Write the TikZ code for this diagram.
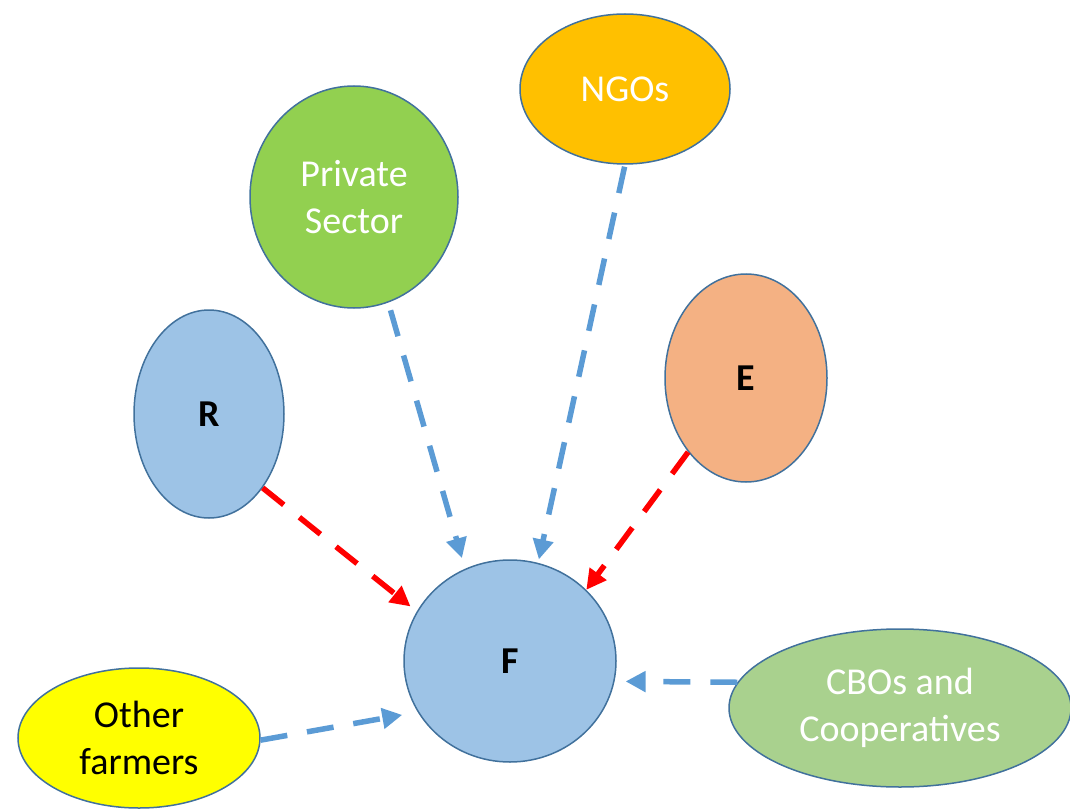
\documentclass[tikz,border=0pt]{standalone}
\usepackage{fontspec}
\setmainfont{Carlito}
\usetikzlibrary{shapes.geometric,arrows.meta}
\definecolor{bord}{HTML}{41719C}
\definecolor{lblue}{HTML}{9DC3E6}
\definecolor{ngocol}{HTML}{FFC000}
\definecolor{privcol}{HTML}{92D050}
\definecolor{ecol}{HTML}{F4B183}
\definecolor{yel}{HTML}{FFFF00}
\definecolor{cbocol}{HTML}{A9D18E}
\definecolor{arrblue}{HTML}{5B9BD5}
\definecolor{arrred}{HTML}{FF0000}
\tikzset{
  bub/.style={ellipse, draw=bord, line width=1.5pt, inner sep=0pt, align=center,
    font=\fontsize{38}{47}\selectfont},
  lab/.style={font=\fontsize{38}{46}\selectfont\bfseries},
  conn/.style={line width=5.5pt, dash pattern=on 27pt off 20pt,
    -{Triangle[length=20pt,width=20pt]}},
}
\begin{document}
\begin{tikzpicture}[x=1pt,y=-1pt]
\useasboundingbox (0,0) rectangle (1070,810);
\node[bub, fill=ngocol, text=white, minimum width=210pt, minimum height=150pt] (ngo) at (625,89) {NGOs};
\node[bub, fill=privcol, text=white, minimum width=208pt, minimum height=222pt] (priv) at (354,197) {Private\\Sector};
\node[bub, lab, fill=lblue, minimum width=150pt, minimum height=208pt] (R) at (209,414) {R};
\node[bub, lab, fill=ecol, minimum width=162pt, minimum height=208pt] (E) at (746,378) {E};
\node[bub, lab, fill=lblue, minimum width=212pt, minimum height=202pt] (F) at (510,661) {F};
\node[bub, fill=yel, minimum width=242pt, minimum height=140pt] (oth) at (139,738) {Other\\farmers};
\node[bub, fill=cbocol, text=white, minimum width=342pt, minimum height=158pt] (cbo) at (900,708) {CBOs and\\Cooperatives};

\draw[conn, arrblue, shorten <=8pt, shorten >=11pt] (priv.-72) -- (F.116.8);
\draw[conn, arrblue, shorten <=2pt, shorten >=3.5pt] (ngo.-90.7) -- (F.74.5);
\draw[conn, arrred, shorten >=8pt] (R.-54) -- (F.152.1);
\draw[conn, arrred] (E.-128.1) -- (F.43.4);
\draw[conn, arrblue, shorten >=15.7pt] (oth.-1) -- (F.209.3);
\draw[conn, arrblue, shorten >=11pt] (cbo.171) -- (F.-11.5);
\end{tikzpicture}
\end{document}
